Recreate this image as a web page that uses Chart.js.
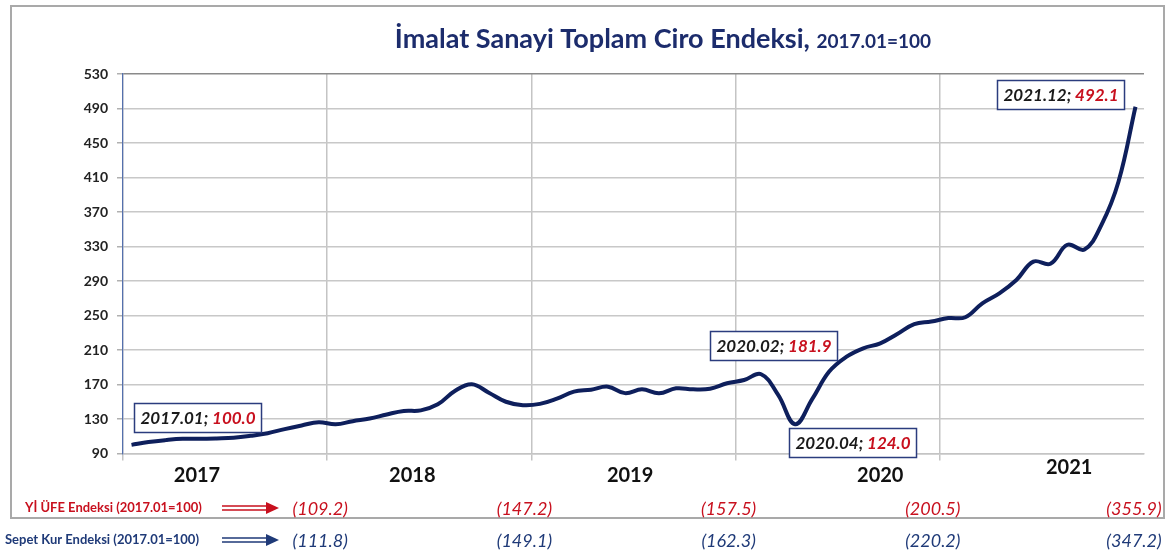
<!DOCTYPE html>
<html>
<head>
<meta charset="utf-8">
<script src="https://cdn.jsdelivr.net/npm/chart.js@4.4.1/dist/chart.umd.min.js"></script>
<style>
  html, body { margin: 0; padding: 0; background: #fff; }
  #wrap { width: 1176px; height: 555px; position: relative; }
</style>
</head>
<body>
<div id="wrap"><canvas id="ciroChart" width="1176" height="555"></canvas></div>
<script>
// Monthly categories 2017.01 .. 2021.12
const years = ['2017', '2018', '2019', '2020', '2021'];
const months = [];
years.forEach(y => {
  for (let m = 1; m <= 12; m++) months.push(y + '.' + String(m).padStart(2, '0'));
});

// Imalat sanayi toplam ciro endeksi (2017.01=100)
const ciro = [
  100.0, 103.3, 105.5, 107.0, 107.0, 107.5, 108.3, 110.5, 113.5, 118.3, 122.5, 126.3,
  123.8, 127.5, 130.5, 135.3, 139.3, 140.0, 147.0, 162.5, 170.2, 160.5, 150.0, 146.0,
  147.5, 153.6, 161.7, 164.0, 167.5, 160.0, 164.4, 159.8, 165.6, 164.4, 165.1, 171.4,
  175.2, 181.9, 158.0, 124.0, 153.0, 185.0, 202.0, 212.0, 217.7, 228.5, 240.0, 243.0,
  247.0, 248.0, 264.1, 275.7, 291.2, 312.5, 310.0, 332.0, 326.5, 355.0, 405.0, 492.1
];

// year-end values shown under the chart
const ufeLabel = 'Yİ ÜFE Endeksi (2017.01=100)';
const ufe = [109.2, 147.2, 157.5, 200.5, 355.9];
const sepetLabel = 'Sepet Kur Endeksi (2017.01=100)';
const sepet = [111.8, 149.1, 162.3, 220.2, 347.2];

// y axis ticks
const yMin = 90, yMax = 530, yStep = 40;

// points that get a callout box
const calloutIdx = [0, 37, 39, 59];

const NAVY = '#0e1f5c';
const RED = '#c8101e';
const FONT = 'Lato, "Open Sans", sans-serif';

// callout placement relative to its point (box top-left)
const calloutOffset = { 0: [2, -42], 37: [-51, -43], 39: [-6, 4], 59: [-138, -27] };
// year label positions in category units
const yearPos = [3.85, 16.5, 29.3, 44.0, 55.1];

const decorPlugin = {
  id: 'decor',
  beforeDraw(chart) {
    const ctx = chart.ctx;
    ctx.save();
    ctx.fillStyle = '#fff';
    ctx.fillRect(0, 0, chart.width, chart.height);
    ctx.strokeStyle = '#a9a9a9';
    ctx.lineWidth = 2;
    ctx.strokeRect(11, 6, 1153, 512);
    ctx.restore();
  },
  afterDraw(chart) {
    const ctx = chart.ctx;
    const xs = chart.scales.x;
    const meta = chart.getDatasetMeta(0);
    ctx.save();

    // title
    ctx.textBaseline = 'alphabetic';
    ctx.textAlign = 'left';
    ctx.fillStyle = '#1c2c6c';
    const f1 = 'bold 27px ' + FONT, f2 = 'bold 19px ' + FONT;
    ctx.font = f1;
    const t1 = 'İmalat Sanayi Toplam Ciro Endeksi, ';
    const w1 = ctx.measureText(t1).width;
    ctx.font = f2;
    const t2 = '2017.01=100';
    const w2 = ctx.measureText(t2).width;
    const tx = 663 - (w1 + w2) / 2;
    ctx.font = f1;
    ctx.fillText(t1, tx, 48);
    ctx.font = f2;
    ctx.fillText(t2, tx + w1, 48);

    // year labels
    ctx.fillStyle = '#111';
    ctx.font = 'bold 20px ' + FONT;
    ctx.textAlign = 'center';
    ctx.textBaseline = 'middle';
    years.forEach((y, k) => {
      ctx.fillText(y, xs.getPixelForValue(yearPos[k]), k === 4 ? 468 : 476);
    });

    // callouts
    const cf = 'italic bold 17px ' + FONT;
    calloutIdx.forEach(i => {
      const pt = meta.data[i];
      const a = months[i] + '; ';
      const b = ciro[i].toFixed(1);
      ctx.font = cf;
      const wa = ctx.measureText(a).width;
      const wb = ctx.measureText(b).width;
      const bw = wa + wb + 12, bh = 29;
      const bx = Math.round(pt.x + calloutOffset[i][0]) + 0.5;
      const by = Math.round(pt.y + calloutOffset[i][1]) + 0.5;
      ctx.fillStyle = '#fff';
      ctx.fillRect(bx, by, bw, bh);
      ctx.strokeStyle = '#2b3c7e';
      ctx.lineWidth = 1.5;
      ctx.strokeRect(bx, by, bw, bh);
      ctx.textAlign = 'left';
      ctx.textBaseline = 'middle';
      ctx.fillStyle = '#1a1a1a';
      ctx.fillText(a, bx + 6, by + bh / 2 + 1);
      ctx.fillStyle = RED;
      ctx.fillText(b, bx + 6 + wa, by + bh / 2 + 1);
    });

    // rows under the chart
    function row(label, vals, color, lx, y) {
      ctx.font = 'bold 13px ' + FONT;
      ctx.fillStyle = color;
      ctx.textAlign = 'left';
      ctx.textBaseline = 'middle';
      ctx.fillText(label, lx, y);
      // double arrow
      ctx.strokeStyle = color;
      ctx.lineWidth = 1.4;
      ctx.beginPath();
      ctx.moveTo(222, y - 2); ctx.lineTo(269, y - 2);
      ctx.moveTo(222, y + 2); ctx.lineTo(269, y + 2);
      ctx.stroke();
      ctx.beginPath();
      ctx.moveTo(266, y - 6); ctx.lineTo(279, y); ctx.lineTo(266, y + 6);
      ctx.closePath();
      ctx.fill();
      ctx.font = 'italic 18px ' + FONT;
      ctx.textAlign = 'center';
      vals.forEach((v, k) => {
        const cx = xs.getPixelForValue(12 * k + 11.5) - (k === 4 ? 10 : 7);
        ctx.fillText('(' + v.toFixed(1) + ')', cx, y + 1);
      });
    }
    row(ufeLabel, ufe, RED, 25, 508);
    row(sepetLabel, sepet, '#1f3a78', 5, 540);

    ctx.restore();
  }
};

new Chart(document.getElementById('ciroChart'), {
  type: 'line',
  data: {
    labels: months,
    datasets: [{
      data: ciro,
      borderColor: NAVY,
      borderWidth: 4,
      pointRadius: 0,
      tension: 0.4,
      fill: false
    }]
  },
  options: {
    responsive: false,
    animation: false,
    layout: { padding: { top: 74, right: 32, left: 0, bottom: 0 } },
    plugins: {
      legend: { display: false },
      tooltip: { enabled: false },
      title: { display: false }
    },
    scales: {
      x: {
        type: 'category',
        offset: true,
        ticks: { display: false },
        grid: {
          offset: true,
          drawTicks: true,
          tickLength: 7,
          lineWidth: 1.5,
          color: c => (c.index % 12 === 0 ? '#c4c4c4' : 'rgba(0,0,0,0)')
        },
        border: { display: true, color: '#c4c4c4', width: 1.5 },
        afterFit: s => { s.height = 101.5; }
      },
      y: {
        min: yMin,
        max: yMax,
        ticks: {
          stepSize: yStep,
          padding: 9,
          color: '#222',
          font: { family: FONT, size: 14, weight: 'bold' }
        },
        grid: {
          lineWidth: 1.5,
          tickLength: 6,
          color: c => (c.tick && c.tick.value === yMax ? '#8a8a8a' : '#c8c8c8'),
          tickColor: '#b0b0b0'
        },
        border: { display: true, color: '#5470ad', width: 1.2 },
        afterFit: s => { s.width = 123; }
      }
    }
  },
  plugins: [decorPlugin]
});
</script>
</body>
</html>
